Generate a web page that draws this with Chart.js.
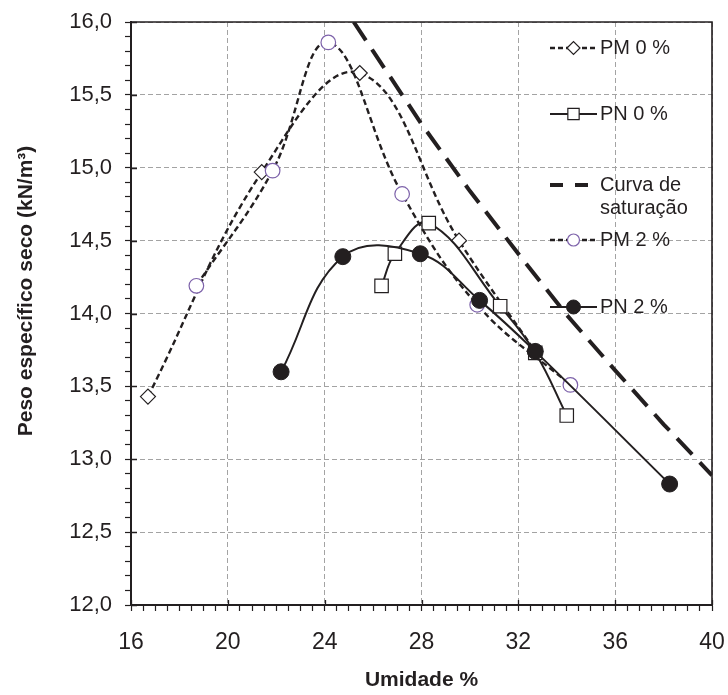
<!DOCTYPE html>
<html>
<head>
<meta charset="utf-8">
<script src="https://cdn.jsdelivr.net/npm/chart.js@4.4.0/dist/chart.umd.min.js"></script>
<style>
  html, body { margin: 0; padding: 0; background: #fff; }
  #wrap { width: 728px; height: 695px; }
</style>
</head>
<body>
<div id="wrap"><canvas id="myChart" width="728" height="695"></canvas></div>
<script>
  // tick labels (major)
  const xTicks = [16, 20, 24, 28, 32, 36, 40];
  const yTicks = [12, 12.5, 13, 13.5, 14, 14.5, 15, 15.5, 16];

  // series (umidade %, kN/m3)
  const pm0X = [16.7, 21.4, 25.45, 29.55, 32.7];
  const pm0Y = [13.43, 14.97, 15.65, 14.5, 13.74];

  const pn0X = [26.35, 26.9, 28.3, 31.25, 32.7, 34.0];
  const pn0Y = [14.19, 14.41, 14.62, 14.05, 13.73, 13.3];

  const satX = [25.2, 26, 28, 30, 32, 34, 36, 38, 40];
  const satY = [16.0, 15.8, 15.3, 14.84, 14.41, 13.99, 13.61, 13.24, 12.89];

  const pm2X = [18.7, 21.85, 24.15, 27.2, 30.3, 34.15];
  const pm2Y = [14.19, 14.98, 15.86, 14.82, 14.06, 13.51];

  const pn2X = [22.2, 24.75, 27.95, 30.4, 32.7, 38.25];
  const pn2Y = [13.6, 14.39, 14.41, 14.09, 13.74, 12.83];

  const ink = "#231f20";
  const purple = "#7d62aa";
  const gridGray = "#a3a3a3";
  const fontFamily = "'Liberation Sans', Arial, sans-serif";

  function pts(xs, ys) {
    return xs.map(function (x, i) {
      return { x: x, y: ys[i] };
    });
  }

  function isMajor(list, v) {
    return list.some(function (t) {
      return Math.abs(t - v) < 1e-6;
    });
  }

  // legend rows drawn inside the plot, like the original
  const legendRows = [
    { ds: 0, y: 48, lines: ["PM 0 %"] },
    { ds: 1, y: 114, lines: ["PN 0 %"] },
    { ds: 2, y: 185, lines: ["Curva de", "saturação"], dash: [13, 12] },
    { ds: 3, y: 240, lines: ["PM 2 %"] },
    { ds: 4, y: 307, lines: ["PN 2 %"] },
  ];

  const framePlugin = {
    id: "frame",
    beforeDatasetsDraw: function (chart) {
      const ctx = chart.ctx;
      const a = chart.chartArea;
      const xs = chart.scales.x;
      const ys = chart.scales.y;
      ctx.save();
      ctx.strokeStyle = ink;
      ctx.lineWidth = 1.6;
      ctx.beginPath();
      ctx.moveTo(a.left, a.top);
      ctx.lineTo(a.right, a.top);
      ctx.lineTo(a.right, a.bottom);
      ctx.stroke();
      // major ticks cross the axis
      ctx.lineWidth = 1.3;
      ctx.beginPath();
      xTicks.forEach(function (t) {
        const px = Math.round(xs.getPixelForValue(t)) + 0.5;
        ctx.moveTo(px, a.bottom);
        ctx.lineTo(px, a.bottom - 5);
      });
      yTicks.forEach(function (t) {
        const py = Math.round(ys.getPixelForValue(t)) + 0.5;
        ctx.moveTo(a.left, py);
        ctx.lineTo(a.left + 6, py);
      });
      ctx.stroke();
      ctx.restore();
    },
    afterDraw: function (chart) {
      const ctx = chart.ctx;
      ctx.save();
      // y title
      ctx.translate(26, 291);
      ctx.rotate(-Math.PI / 2);
      ctx.fillStyle = ink;
      ctx.font = "bold 21px " + fontFamily;
      ctx.textAlign = "center";
      ctx.textBaseline = "middle";
      ctx.fillText("Peso específico seco (kN/m³)", 0, 0);
      ctx.restore();

      // legend
      const x1 = 550, x2 = 597, tx = 600;
      legendRows.forEach(function (row) {
        const ds = chart.data.datasets[row.ds];
        ctx.save();
        ctx.strokeStyle = ds.borderColor;
        ctx.lineWidth = ds.borderWidth;
        ctx.setLineDash(row.dash || (ds.borderDash ? [5, 3] : []));
        ctx.beginPath();
        ctx.moveTo(x1, row.y);
        ctx.lineTo(row.dash ? 591 : x2, row.y);
        ctx.stroke();
        ctx.restore();
        if (ds.pointRadius > 0) {
          ctx.save();
          ctx.fillStyle = ds.pointBackgroundColor;
          ctx.strokeStyle = ds.pointBorderColor;
          ctx.lineWidth = ds.pointBorderWidth;
          ctx.setLineDash([]);
          Chart.helpers.drawPoint(ctx, {
            pointStyle: ds.pointStyle,
            radius: ds.legendRadius,
            borderWidth: ds.pointBorderWidth,
            rotation: 0,
          }, (x1 + x2) / 2, row.y);
          ctx.restore();
        }
        ctx.save();
        ctx.fillStyle = ink;
        ctx.font = "20px " + fontFamily;
        ctx.textAlign = "left";
        ctx.textBaseline = "middle";
        row.lines.forEach(function (line, i) {
          ctx.fillText(line, tx, row.y + i * 23);
        });
        ctx.restore();
      });
    },
  };

  const data = {
    datasets: [
      {
        label: "PM 0 %",
        data: pts(pm0X, pm0Y),
        showLine: true,
        borderColor: ink,
        borderWidth: 2.4,
        borderDash: [6, 3.5],
        tension: 0.4,
        pointStyle: "rectRot",
        pointRadius: 7.5,
        legendRadius: 6.5,
        pointBackgroundColor: "#fff",
        pointBorderColor: ink,
        pointBorderWidth: 1.2,
        order: 4,
      },
      {
        label: "PN 0 %",
        data: pts(pn0X, pn0Y),
        showLine: true,
        borderColor: ink,
        borderWidth: 2,
        tension: 0.4,
        pointStyle: "rect",
        pointRadius: 9.5,
        legendRadius: 8,
        pointBackgroundColor: "#fff",
        pointBorderColor: ink,
        pointBorderWidth: 1.2,
        order: 3,
      },
      {
        label: "Curva de saturação",
        data: pts(satX, satY),
        showLine: true,
        borderColor: ink,
        borderWidth: 4,
        borderDash: [22, 11],
        tension: 0,
        pointRadius: 0,
        order: 5,
      },
      {
        label: "PM 2 %",
        data: pts(pm2X, pm2Y),
        showLine: true,
        borderColor: ink,
        borderWidth: 2.4,
        borderDash: [6, 3.5],
        tension: 0.4,
        pointStyle: "circle",
        pointRadius: 7.3,
        legendRadius: 6,
        pointBackgroundColor: "#fff",
        pointBorderColor: purple,
        pointBorderWidth: 1.2,
        order: 2,
      },
      {
        label: "PN 2 %",
        data: pts(pn2X, pn2Y),
        showLine: true,
        borderColor: ink,
        borderWidth: 2,
        tension: 0.4,
        pointStyle: "circle",
        pointRadius: 8,
        legendRadius: 7,
        pointBackgroundColor: ink,
        pointBorderColor: ink,
        pointBorderWidth: 1,
        order: 1,
      },
    ],
  };

  const config = {
    type: "scatter",
    data: data,
    options: {
      responsive: false,
      animation: false,
      devicePixelRatio: 1,
      layout: { padding: { top: 22, right: 16, left: 0, bottom: 0 } },
      plugins: {
        legend: { display: false },
        tooltip: { enabled: false },
      },
      scales: {
        x: {
          type: "linear",
          min: 16,
          max: 40,
          afterFit: function (scale) {
            scale.height = 90;
            scale.paddingLeft = 0;
            scale.paddingRight = 0;
          },
          border: { display: true, color: ink, width: 2, dash: [5, 3] },
          grid: {
            color: function (c) {
              return c.tick && isMajor(xTicks, c.tick.value) ? gridGray : "rgba(0,0,0,0)";
            },
            lineWidth: 1,
            tickLength: 6,
            tickColor: ink,
            tickWidth: 1.2,
          },
          ticks: {
            stepSize: 0.5,
            autoSkip: false,
            maxRotation: 0,
            padding: 18,
            color: ink,
            font: { family: fontFamily, size: 23 },
            callback: function (v) {
              return isMajor(xTicks, v) ? String(Math.round(v)) : "";
            },
          },
          title: {
            display: true,
            text: "Umidade %",
            color: ink,
            font: { family: fontFamily, size: 21, weight: "bold" },
            padding: { top: 0, bottom: 2 },
          },
        },
        y: {
          type: "linear",
          min: 12,
          max: 16,
          afterFit: function (scale) {
            scale.width = 131;
            scale.paddingTop = 0;
            scale.paddingBottom = 0;
          },
          border: { display: true, color: ink, width: 2, dash: [5, 3] },
          grid: {
            color: function (c) {
              return c.tick && isMajor(yTicks, c.tick.value) ? gridGray : "rgba(0,0,0,0)";
            },
            lineWidth: 1,
            tickLength: 6,
            tickColor: ink,
            tickWidth: 1.2,
          },
          ticks: {
            stepSize: 0.1,
            autoSkip: false,
            padding: 13,
            color: ink,
            font: { family: fontFamily, size: 22 },
            callback: function (v) {
              return isMajor(yTicks, v) ? v.toFixed(1).replace(".", ",") : "";
            },
          },
        },
      },
    },
    plugins: [framePlugin],
  };

  const myChart = new Chart(document.getElementById("myChart"), config);
</script>
</body>
</html>
